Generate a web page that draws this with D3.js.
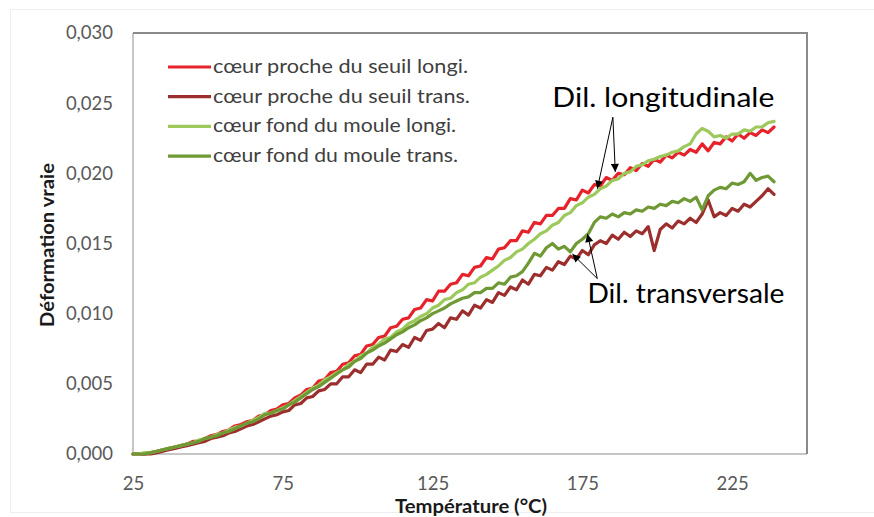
<!DOCTYPE html>
<html><head><meta charset="utf-8">
<script src="https://cdn.jsdelivr.net/npm/d3@7"></script>
<style>
body{margin:0;background:#fff}
svg{display:block}
text{font-family:Lato,"Open Sans",sans-serif}
</style>
</head><body>
<svg id="c" width="874" height="517"></svg>
<script>
// ---- data ----
const temps = [25,27,29,31,33,35,37,39,41,43,
45,47,49,51,53,55,57,59,61,63,
65,67,69,71,73,75,77,79,81,83,
85,87,89,91,93,95,97,99,101,103,
105,107,109,111,113,115,117,119,121,123,
125,127,129,131,133,135,137,139,141,143,
145,147,149,151,153,155,157,159,161,163,
165,167,169,171,173,175,177,179,181,183,
185,187,189,191,193,195,197,199,201,203,
205,207,209,211,213,215,217,219,221,223,
225,227,229,231,233,235,237,239];

const seuilLongi = [0.0000,0.0000,0.0000,0.0001,0.0002,0.0003,0.0004,0.0005,0.0006,0.0007,
0.0009,0.0009,0.0011,0.0013,0.0014,0.0016,0.0017,0.0020,0.0021,0.0023,
0.0024,0.0027,0.0028,0.0031,0.0032,0.0035,0.0036,0.0040,0.0042,0.0046,
0.0047,0.0052,0.0053,0.0058,0.0059,0.0064,0.0065,0.0070,0.0071,0.0077,
0.0078,0.0083,0.0084,0.0090,0.0091,0.0096,0.0097,0.0103,0.0104,0.0110,
0.0109,0.0116,0.0116,0.0121,0.0122,0.0128,0.0127,0.0133,0.0134,0.0140,
0.0139,0.0146,0.0147,0.0152,0.0152,0.0159,0.0158,0.0165,0.0164,0.0170,
0.0170,0.0175,0.0175,0.0182,0.0181,0.0188,0.0186,0.0192,0.0191,0.0197,
0.0195,0.0200,0.0199,0.0204,0.0202,0.0207,0.0205,0.0210,0.0208,0.0213,
0.0211,0.0215,0.0213,0.0217,0.0215,0.0221,0.0216,0.0222,0.0221,0.0226,
0.0223,0.0228,0.0225,0.0229,0.0227,0.0231,0.0229,0.0233];

const seuilTrans = [0.0000,0.0000,0.0000,0.0000,0.0001,0.0002,0.0003,0.0004,0.0005,0.0006,
0.0007,0.0008,0.0009,0.0011,0.0012,0.0013,0.0015,0.0016,0.0018,0.0020,
0.0021,0.0023,0.0025,0.0027,0.0028,0.0030,0.0031,0.0035,0.0036,0.0040,
0.0041,0.0045,0.0046,0.0050,0.0050,0.0055,0.0055,0.0060,0.0058,0.0064,
0.0064,0.0069,0.0067,0.0074,0.0073,0.0078,0.0076,0.0083,0.0081,0.0088,
0.0089,0.0093,0.0090,0.0097,0.0096,0.0102,0.0099,0.0106,0.0104,0.0110,
0.0108,0.0115,0.0113,0.0119,0.0117,0.0124,0.0121,0.0128,0.0127,0.0133,
0.0131,0.0137,0.0135,0.0141,0.0139,0.0145,0.0142,0.0149,0.0152,0.0150,
0.0156,0.0153,0.0158,0.0155,0.0159,0.0157,0.0162,0.0145,0.0160,0.0164,
0.0161,0.0166,0.0164,0.0168,0.0165,0.0171,0.0181,0.0169,0.0172,0.0170,
0.0175,0.0173,0.0178,0.0176,0.0180,0.0184,0.0189,0.0185];

const fondLongi = [0.0000,0.0000,0.0001,0.0001,0.0002,0.0003,0.0004,0.0005,0.0006,0.0007,
0.0008,0.0010,0.0011,0.0012,0.0014,0.0015,0.0017,0.0019,0.0020,0.0022,
0.0024,0.0026,0.0029,0.0029,0.0031,0.0033,0.0035,0.0038,0.0041,0.0044,
0.0047,0.0049,0.0053,0.0055,0.0058,0.0060,0.0064,0.0066,0.0070,0.0072,
0.0076,0.0078,0.0082,0.0083,0.0087,0.0089,0.0093,0.0095,0.0098,0.0100,
0.0104,0.0106,0.0110,0.0111,0.0115,0.0117,0.0121,0.0122,0.0126,0.0128,
0.0131,0.0134,0.0138,0.0140,0.0144,0.0146,0.0150,0.0153,0.0157,0.0159,
0.0163,0.0165,0.0170,0.0172,0.0177,0.0179,0.0183,0.0185,0.0189,0.0191,
0.0195,0.0196,0.0200,0.0201,0.0205,0.0206,0.0209,0.0210,0.0212,0.0213,
0.0215,0.0216,0.0219,0.0221,0.0228,0.0232,0.0230,0.0226,0.0227,0.0225,
0.0228,0.0228,0.0231,0.0230,0.0233,0.0233,0.0236,0.0237];

const fondTrans = [0.0000,0.0000,0.0000,0.0001,0.0002,0.0003,0.0004,0.0005,0.0006,0.0007,
0.0008,0.0009,0.0011,0.0012,0.0013,0.0015,0.0016,0.0018,0.0020,0.0022,
0.0023,0.0025,0.0028,0.0029,0.0031,0.0032,0.0035,0.0037,0.0040,0.0043,
0.0046,0.0048,0.0051,0.0054,0.0057,0.0060,0.0062,0.0066,0.0068,0.0072,
0.0074,0.0077,0.0079,0.0082,0.0085,0.0087,0.0090,0.0092,0.0095,0.0097,
0.0100,0.0102,0.0104,0.0107,0.0109,0.0111,0.0112,0.0115,0.0115,0.0118,
0.0118,0.0122,0.0121,0.0126,0.0127,0.0130,0.0136,0.0143,0.0141,0.0147,
0.0150,0.0146,0.0148,0.0144,0.0150,0.0153,0.0157,0.0165,0.0169,0.0168,
0.0171,0.0169,0.0172,0.0171,0.0174,0.0173,0.0176,0.0175,0.0178,0.0177,
0.0180,0.0179,0.0182,0.0180,0.0183,0.0174,0.0184,0.0188,0.0190,0.0189,
0.0193,0.0192,0.0194,0.0200,0.0195,0.0197,0.0198,0.0194];

const seriesNames = ["cœur proche du seuil longi.","cœur proche du seuil trans.","cœur fond du moule longi.","cœur fond du moule trans."];
const seriesValues = [seuilLongi, seuilTrans, fondLongi, fondTrans];
const seriesColors = ["#e6222a","#9c2f2d","#9dc95c","#6e9934"];

const xTicks = [25,75,125,175,225];
const yTicks = [0,0.005,0.010,0.015,0.020,0.025,0.030];
const xTitle = "Température (°C)";
const yTitle = "Déformation vraie";

// annotations in data space
const annoLabels = ["Dil. longitudinale","Dil. transversale"];
const annoTextPos = [[165,0.02473],[176.7,0.01076]];
const annoFrom = [[185.2,0.0240],[180,0.01250]];
const annoTips = [[[180,0.0189],[186,0.0201]],[[171.7,0.01425],[176.7,0.01568]]];

// ---- chart ----
const svg = d3.select("#c");
const L=133,R=807,T=33,B=454;
const x = d3.scaleLinear().domain([25,250]).range([L,R]);
const y = d3.scaleLinear().domain([0,0.03]).range([B,T]);
const loc = d3.formatLocale({decimal:",",thousands:" ",grouping:[3],currency:["","€"]});
const fmt = loc.format(".3f");

svg.append("rect").attr("x",10.5).attr("y",9.5).attr("width",900).attr("height",503)
  .attr("fill","none").attr("stroke","#efefef");

svg.append("line").attr("x1",L).attr("x2",L).attr("y1",T).attr("y2",B).attr("stroke","#b3b3b3").attr("stroke-width",1.5);
svg.append("line").attr("x1",L).attr("x2",R).attr("y1",B).attr("y2",B).attr("stroke","#b3b3b3").attr("stroke-width",1.5);
svg.append("line").attr("x1",L).attr("x2",R).attr("y1",T).attr("y2",T).attr("stroke","#8a8a8a").attr("stroke-width",2);
svg.append("line").attr("x1",R).attr("x2",R).attr("y1",T-1).attr("y2",B).attr("stroke","#8a8a8a").attr("stroke-width",2);

const gx = svg.append("g").attr("transform",`translate(0,${B})`)
  .call(d3.axisBottom(x).tickValues(xTicks).tickSize(0).tickPadding(23).tickFormat(d3.format("d")));
gx.select(".domain").remove();
gx.selectAll("text").attr("font-size",18.5).attr("fill","#595959").attr("font-family","Lato");

const gy = svg.append("g").attr("transform",`translate(${L},0)`)
  .call(d3.axisLeft(y).tickValues(yTicks).tickSize(0).tickPadding(20).tickFormat(fmt));
gy.select(".domain").remove();
gy.selectAll("text").attr("font-size",18.5).attr("fill","#595959").attr("font-family","Lato");

svg.append("text").attr("x",471).attr("y",513).attr("text-anchor","middle")
  .attr("font-size",18.5).attr("font-weight","bold").attr("fill","#1a1a1a")
  .attr("textLength",152).attr("lengthAdjust","spacingAndGlyphs").text(xTitle);
svg.append("text").attr("transform","translate(54,245) rotate(-90)").attr("text-anchor","middle")
  .attr("font-size",18.5).attr("font-weight","bold").attr("fill","#1a1a1a")
  .attr("textLength",164).attr("lengthAdjust","spacingAndGlyphs").text(yTitle);

const line = d3.line().x((d,i)=>x(temps[i])).y(d=>y(d));
svg.append("g").selectAll("path").data(seriesValues).join("path")
  .attr("d",d=>line(d)).attr("fill","none")
  .attr("stroke",(d,i)=>seriesColors[i]).attr("stroke-width",3.2)
  .attr("stroke-linejoin","round").attr("stroke-linecap","round");

const legendWidths = [255,257,243,245];
const lg = svg.append("g");
seriesNames.forEach((n,i)=>{
  const yy = 67 + i*29.7;
  lg.append("line").attr("x1",168).attr("x2",211).attr("y1",yy).attr("y2",yy)
    .attr("stroke",seriesColors[i]).attr("stroke-width",3.2);
  lg.append("text").attr("x",213).attr("y",yy+6).attr("font-size",20).attr("fill","#404040")
    .attr("textLength",legendWidths[i]).attr("lengthAdjust","spacingAndGlyphs").text(n);
});

const defs = svg.append("defs");
defs.append("marker").attr("id","ah").attr("viewBox","0 0 10 10").attr("refX",10).attr("refY",5)
  .attr("markerWidth",10).attr("markerHeight",8).attr("markerUnits","userSpaceOnUse").attr("orient","auto")
  .append("path").attr("d","M0,0L10,5L0,10z").attr("fill","#000");
const annoWidths = [222,197];
annoLabels.forEach((lab,k)=>{
  svg.append("text").attr("x",x(annoTextPos[k][0])).attr("y",y(annoTextPos[k][1]))
    .attr("font-size",26).attr("fill","#000")
    .attr("textLength",annoWidths[k]).attr("lengthAdjust","spacingAndGlyphs").text(lab);
  annoTips[k].forEach(t=>{
    svg.append("line").attr("x1",x(annoFrom[k][0])).attr("y1",y(annoFrom[k][1]))
      .attr("x2",x(t[0])).attr("y2",y(t[1])).attr("stroke","#000").attr("stroke-width",1)
      .attr("marker-end","url(#ah)");
  });
});
</script>
</body></html>
